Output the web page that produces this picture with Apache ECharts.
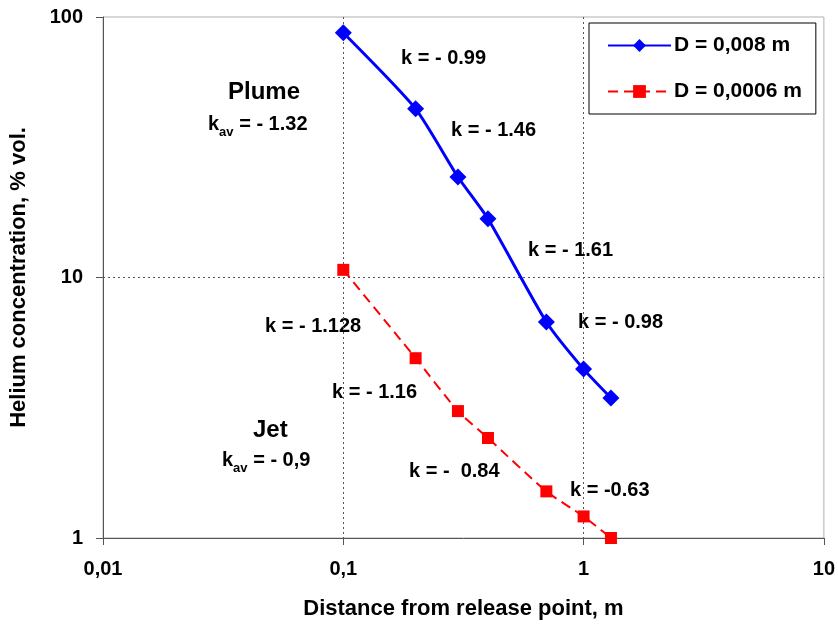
<!DOCTYPE html>
<html>
<head>
<meta charset="utf-8">
<script src="https://cdn.jsdelivr.net/npm/echarts@6/dist/echarts.min.js"></script>
<style>
  body { margin: 0; background: #fff; }
  #main { width: 838px; height: 628px; }
</style>
</head>
<body>
<div id="main"></div>
<script>
// distances, m
const distance = [0.1, 0.2, 0.3, 0.4, 0.7, 1, 1.3];
// helium concentration, % vol.
const concLarge = [87, 44.4, 24.3, 16.8, 6.75, 4.45, 3.45];   // D = 0,008 m
const concSmall = [10.7, 4.9, 3.07, 2.42, 1.51, 1.21, 1.0];   // D = 0,0006 m
const seriesNames = ['D = 0,008 m', 'D = 0,0006 m'];

const FONT = '"Liberation Sans", Arial, sans-serif';
const chart = echarts.init(document.getElementById('main'));

function pairs(xs, ys) {
  return xs.map(function (x, i) { return [x, ys[i]]; });
}

// text annotation, left edge x, vertical centre y
function note(x, y, text, size) {
  size = size || 20;
  return {
    type: 'text', x: x, y: y,
    style: {
      text: text,
      font: 'bold ' + size + 'px ' + FONT,
      fill: '#000',
      align: 'left',
      verticalAlign: 'middle',
      rich: {
        b: { font: 'bold ' + size + 'px ' + FONT, fill: '#000', lineHeight: 22 },
        sub: { font: 'bold 13px ' + FONT, fill: '#000', lineHeight: 22, verticalAlign: 'top', padding: [13, 0, 0, 0] }
      }
    }
  };
}

chart.setOption({
  animation: false,
  grid: {
    left: 103, right: 14, top: 17, bottom: 90,
    show: true, borderColor: '#b0b0b0', borderWidth: 1
  },
  xAxis: {
    type: 'log', logBase: 10, min: 0.01, max: 10,
    name: 'Distance from release point, m',
    nameLocation: 'middle', nameGap: 60,
    nameTextStyle: { fontFamily: FONT, fontWeight: 'bold', fontSize: 22, color: '#000' },
    axisLine: { lineStyle: { color: '#555', width: 1 } },
    axisTick: { length: 7, lineStyle: { color: '#555' } },
    axisLabel: {
      fontFamily: FONT, fontWeight: 'bold', fontSize: 20, color: '#000', margin: 21,
      formatter: function (v) { return String(v).replace('.', ','); }
    },
    splitLine: { show: true, showMinLine: false, showMaxLine: false, lineStyle: { color: '#555', type: [2, 3] } }
  },
  yAxis: {
    type: 'log', logBase: 10, min: 1, max: 100,
    name: 'Helium concentration, % vol.',
    nameLocation: 'middle', nameGap: 73,
    nameTextStyle: { fontFamily: FONT, fontWeight: 'bold', fontSize: 22, color: '#000' },
    axisLine: { lineStyle: { color: '#555', width: 1 } },
    axisTick: { length: 7, lineStyle: { color: '#555' } },
    axisLabel: { fontFamily: FONT, fontWeight: 'bold', fontSize: 20, color: '#000', margin: 20 },
    splitLine: { show: true, showMinLine: false, showMaxLine: false, lineStyle: { color: '#555', type: [2, 3] } }
  },
  legend: {
    orient: 'vertical', left: 589, top: 23,
    padding: [12, 14, 12, 18], itemGap: 25,
    itemWidth: 63, itemHeight: 16,
    borderColor: '#000', borderWidth: 1, backgroundColor: '#fff',
    textStyle: { fontFamily: FONT, fontWeight: 'bold', fontSize: 21, color: '#000', padding: [0, 0, 0, -2] },
    data: seriesNames
  },
  series: [
    {
      name: seriesNames[0], type: 'line', smooth: 0.2,
      data: pairs(distance, concLarge),
      symbol: 'diamond', symbolSize: 17,
      lineStyle: { color: '#0000ff', width: 3 },
      itemStyle: { color: '#0000ff' }
    },
    {
      name: seriesNames[1], type: 'line', smooth: 0.2,
      data: pairs(distance, concSmall),
      symbol: 'rect', symbolSize: 12,
      lineStyle: { color: '#ff0000', width: 2, type: [10, 6] },
      itemStyle: { color: '#ff0000' }
    }
  ],
  graphic: [
    note(401, 58, 'k = - 0.99'),
    note(228, 92, 'Plume', 24),
    note(208, 124, '{b|k}{sub|av}{b| = - 1.32}'),
    note(451, 130, 'k = - 1.46'),
    note(528, 250, 'k = - 1.61'),
    note(578, 322, 'k = - 0.98'),
    note(265, 326, 'k = - 1.128'),
    note(332, 392, 'k = - 1.16'),
    note(253, 430, 'Jet', 24),
    note(222, 460, '{b|k}{sub|av}{b| = - 0,9}'),
    note(409, 471, 'k = -  0.84'),
    note(570, 490, 'k = -0.63')
  ]
});
</script>
</body>
</html>
